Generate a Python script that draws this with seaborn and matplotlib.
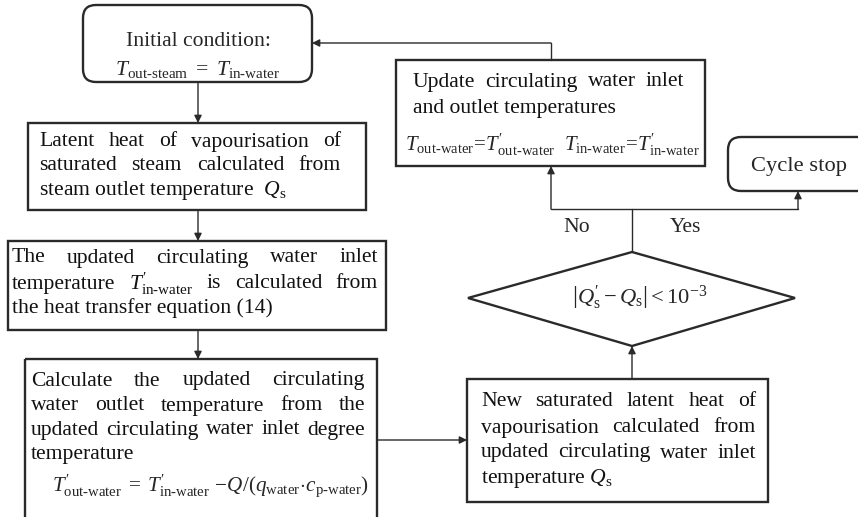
import matplotlib
matplotlib.use('Agg')
import matplotlib.pyplot as plt
from matplotlib.patches import FancyBboxPatch, Rectangle, Polygon
import seaborn as sns

# ---- texts of the flowchart ----
init_lines = ['Initial condition:',
              r'$T_{\text{out-steam}}\ =\ T_{\text{in-water}}$']
latent_lines = ['Latent heat of vapourisation of',
                'saturated steam calculated from',
                r'steam outlet temperature  $Q_{\text{s}}$']
inlet_lines = ['The updated circulating water inlet',
               r'temperature $T^{\prime}_{\text{in-water}}$ is calculated from',
               'the heat transfer equation (14)']
outlet_lines = ['Calculate the updated circulating',
                'water outlet temperature from the',
                'updated circulating water inlet degree',
                'temperature']
outlet_formula = (r'$T^{\prime}_{\text{out-water}}\;=\;T^{\prime}_{\text{in-water}}\, '
                  r'-\!Q/(q_{\text{water}}\!\cdot\! c_{\text{p-water}})$')
new_lines = ['New saturated latent heat of',
             'vapourisation calculated from',
             'updated circulating water inlet',
             r'temperature $Q_{\text{s}}$']
update_lines = ['Update circulating water inlet',
                'and outlet temperatures']
update_formula = (r'$T_{\text{out-water}}\!=\!T^{\prime}_{\text{out-water}}\ \ '
                  r'T_{\text{in-water}}\!=\!T^{\prime}_{\text{in-water}}$')
stop_text = 'Cycle stop'
check_text = r'$\left|Q^{\prime}_{\text{s}} - Q_{\text{s}}\right| < 10^{-3}$'
branch_labels = ['No', 'Yes']

LINE = '#2a2a2a'
FS = 15.6

sns.set_theme(style='white')
plt.rcParams['font.family'] = ['Liberation Serif', 'DejaVu Serif']
plt.rcParams['mathtext.fontset'] = 'custom'
plt.rcParams['mathtext.rm'] = 'Liberation Serif'
plt.rcParams['mathtext.it'] = 'Liberation Serif:italic'
plt.rcParams['mathtext.bf'] = 'Liberation Serif:bold'

fig = plt.figure(figsize=(8.58, 5.17), dpi=100)
ax = fig.add_axes([0, 0, 1, 1])
ax.set_xlim(0, 858)
ax.set_ylim(517, 0)
ax.axis('off')
renderer = fig.canvas.get_renderer()


def rect(x0, y0, x1, y1):
    ax.add_patch(Rectangle((x0, y0), x1 - x0, y1 - y0, fill=False,
                           ec=LINE, lw=1.7))


def rounded(x0, y0, x1, y1):
    ax.add_patch(FancyBboxPatch((x0, y0), x1 - x0, y1 - y0,
                                boxstyle='round,pad=0,rounding_size=13',
                                fill=False, ec=LINE, lw=1.7))


def arrow(pts):
    xs = [p[0] for p in pts]
    ys = [p[1] for p in pts]
    ax.plot(xs[:-1], ys[:-1], color=LINE, lw=1.0)
    ax.annotate('', xy=pts[-1], xytext=pts[-2],
                arrowprops=dict(arrowstyle='-|>', color=LINE, lw=1.0,
                                mutation_scale=11, shrinkA=0, shrinkB=0))


def line(pts):
    ax.plot([p[0] for p in pts], [p[1] for p in pts], color=LINE, lw=1.0)


def justify(text, x0, x1, y):
    words = text.split(' ')
    arts = [ax.text(x0, y, w, fontsize=FS, va='center', ha='left',
                    color='#111111') for w in words]
    widths = [a.get_window_extent(renderer).width for a in arts]
    gap = (x1 - x0 - sum(widths)) / max(len(words) - 1, 1)
    x = x0
    for a, w in zip(arts, widths):
        a.set_x(x)
        x += w + gap


def left(text, x0, y):
    ax.text(x0, y, text, fontsize=FS, va='center', ha='left', color='#111111')


# ---- boxes ----
rounded(83, 5, 312, 82)
ax.text(198, 42, init_lines[0], fontsize=FS, ha='center', va='center')
ax.text(198, 69, init_lines[1], fontsize=FS, ha='center', va='center')

rect(28, 123, 366, 210)
justify(latent_lines[0], 39, 341, 142)
justify(latent_lines[1], 39, 341, 166)
left(latent_lines[2], 39, 190)

rect(8, 241, 386, 330)
justify(inlet_lines[0], 12, 378, 258)
justify(inlet_lines[1], 12, 378, 284)
left(inlet_lines[2], 12, 308)

rect(25, 359, 377, 540)
for t, y in zip(outlet_lines[:3], [381, 406, 430]):
    justify(t, 31, 365, y)
left(outlet_lines[3], 31, 454)
ax.text(52, 486, outlet_formula, fontsize=FS - 0.4, ha='left', va='center')

rect(396, 60, 705, 166)
justify(update_lines[0], 413, 684, 82)
left(update_lines[1], 413, 108)
ax.text(552, 145, update_formula, fontsize=FS - 0.6, ha='center', va='center')

rounded(728, 137, 880, 191)
ax.text(799, 166, stop_text, fontsize=FS + 0.6, ha='center', va='center')

rect(467, 379, 768, 502)
for t, y in zip(new_lines[:3], [402, 428, 453]):
    justify(t, 481, 756, y)
left(new_lines[3], 481, 479)

ax.add_patch(Polygon([(468, 298), (632, 252), (795, 298), (632, 346)],
                     closed=True, fill=False, ec=LINE, lw=1.7))
ax.text(640, 297, check_text, fontsize=FS + 0.6, ha='center', va='center')

ax.text(577, 228, branch_labels[0], fontsize=FS, ha='center', va='center')
ax.text(686, 228, branch_labels[1], fontsize=FS, ha='center', va='center')

# ---- connectors ----
arrow([(198, 82), (198, 123)])
arrow([(198, 210), (198, 241)])
arrow([(198, 330), (198, 359)])
arrow([(377, 440), (467, 440)])
arrow([(632, 379), (632, 346)])
line([(632, 252), (632, 209)])
line([(551, 209), (798, 209)])
arrow([(551, 209), (551, 166)])
arrow([(798, 209), (798, 191)])
arrow([(551, 60), (551, 43), (312, 43)])

fig.savefig('out.png', dpi=100, facecolor='white')
